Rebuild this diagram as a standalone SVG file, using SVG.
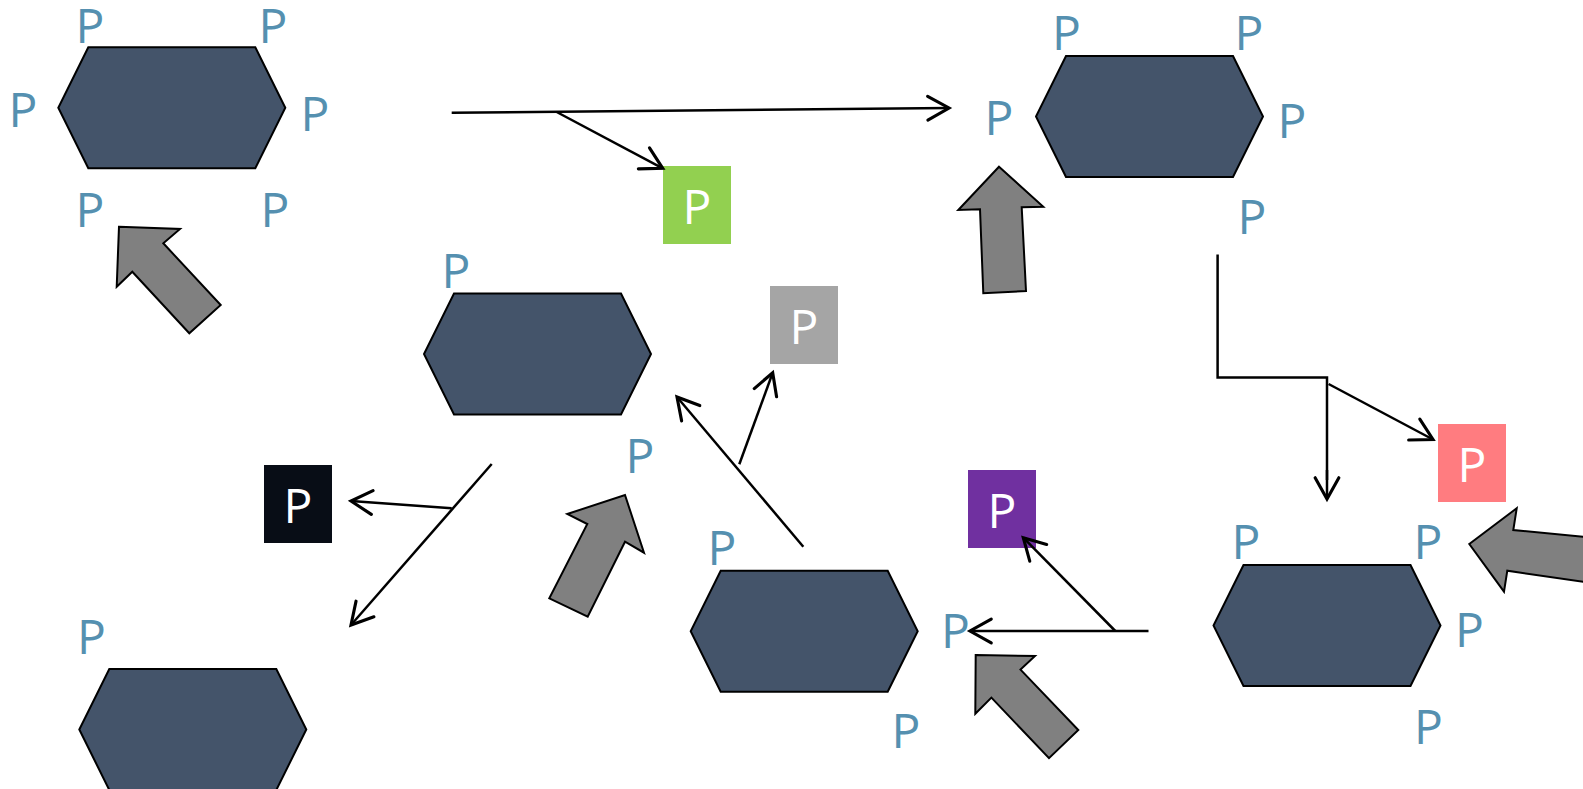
<svg xmlns="http://www.w3.org/2000/svg" xmlns:xlink="http://www.w3.org/1999/xlink" width="1583" height="789" viewBox="0 0 1583 789">
  <style>
    .hex { fill: #44546a; stroke: #000; stroke-width: 2; stroke-linejoin: miter; }
    .port { font-family: "Open Sans", "Noto Sans", sans-serif; font-size: 48px; fill: #5590b0; }
    .tag { font-family: "Open Sans", "Noto Sans", sans-serif; font-size: 48px; fill: #fff; text-anchor: middle; }
    .block { fill: #808080; stroke: #000; stroke-width: 2; stroke-linejoin: miter; }
    .wire { fill: none; stroke: #000; stroke-width: 2.5; }
    .wire.arrow { marker-end: url(#open); }
  </style>
  <defs>
    <polygon id="hexShape" class="hex" points="30,0 197,0 227,60.5 197,121 30,121 0,60.5"/>
    <marker id="open" markerUnits="userSpaceOnUse" markerWidth="30" markerHeight="30" viewBox="-20 -12 24 24" refX="0" refY="0" orient="auto">
      <path d="M -17,-9.5 L 0,0 L -17,9.5" fill="none" stroke="#000" stroke-width="2.5" stroke-linecap="round"/>
    </marker>
  </defs>

  <rect width="1583" height="789" fill="#fff"/>

  <!-- hexagon nodes with their port labels -->
  <g id="hex1">
    <use xlink:href="#hexShape" x="58.3" y="47.3"/>
    <text class="port" x="75.5" y="43">P</text>
    <text class="port" x="258.5" y="43">P</text>
    <text class="port" x="8.5" y="127">P</text>
    <text class="port" x="300.5" y="131">P</text>
    <text class="port" x="75.5" y="227">P</text>
    <text class="port" x="260.5" y="227">P</text>
  </g>
  <g id="hex2">
    <use xlink:href="#hexShape" x="1036" y="56"/>
    <text class="port" x="1052" y="50">P</text>
    <text class="port" x="1234.5" y="50">P</text>
    <text class="port" x="984.5" y="135">P</text>
    <text class="port" x="1277.5" y="138">P</text>
    <text class="port" x="1237.5" y="234">P</text>
  </g>
  <g id="hex3">
    <use xlink:href="#hexShape" x="424" y="293.5"/>
    <text class="port" x="441.5" y="288">P</text>
    <text class="port" x="625.5" y="473">P</text>
  </g>
  <g id="hex4">
    <use xlink:href="#hexShape" x="1213.5" y="565"/>
    <text class="port" x="1231.5" y="559">P</text>
    <text class="port" x="1413.5" y="559">P</text>
    <text class="port" x="1455" y="647">P</text>
    <text class="port" x="1414" y="744">P</text>
  </g>
  <g id="hex5">
    <use xlink:href="#hexShape" x="690.7" y="570.7"/>
    <text class="port" x="707.5" y="565">P</text>
    <text class="port" x="941" y="648">P</text>
    <text class="port" x="891.5" y="748">P</text>
  </g>
  <g id="hex6">
    <use xlink:href="#hexShape" x="79.3" y="669"/>
    <text class="port" x="77" y="654">P</text>
  </g>

  <!-- coloured tag nodes -->
  <g id="tagGreen">
    <rect x="663" y="166" width="68" height="78" fill="#92d050"/>
    <text class="tag" x="697" y="224">P</text>
  </g>
  <g id="tagGrey">
    <rect x="770" y="286" width="68" height="78" fill="#a5a5a5"/>
    <text class="tag" x="804" y="344">P</text>
  </g>
  <g id="tagBlack">
    <rect x="264" y="465" width="68" height="78" fill="#080d16"/>
    <text class="tag" x="298" y="523">P</text>
  </g>
  <g id="tagPurple">
    <rect x="968" y="470" width="68" height="78" fill="#7030a0"/>
    <text class="tag" x="1002" y="528">P</text>
  </g>
  <g id="tagPink">
    <rect x="1438" y="424" width="68" height="78" fill="#ff7c80"/>
    <text class="tag" x="1472" y="482">P</text>
  </g>

  <!-- block arrows -->
  <g id="blockArrow1">
    <polygon class="block" points="119,226.7 180,229 163.3,243.3 220.7,305 189.3,333.3 132.3,271.7 116.7,286.7"/>
  </g>
  <g id="blockArrow2">
    <polygon class="block" points="999,166.7 1043.3,206.7 1021.7,207.3 1026,291 983.3,293.3 980,209.3 958.3,210"/>
  </g>
  <g id="blockArrow3">
    <polygon class="block" points="625,495 644,552.7 625,541.7 587.7,616.7 549.3,598.3 587.3,524 567.3,514"/>
  </g>
  <g id="blockArrow4">
    <polygon class="block" points="975.7,655 1035,656 1020.5,669.6 1078.3,730 1049,758.2 991.4,697.6 975.3,713.8"/>
  </g>
  <g id="blockArrow5">
    <polygon class="block" points="1469.3,544 1516.7,508.3 1513.3,530 1625,541 1625,588 1507.3,570.7 1504,591.7"/>
  </g>

  <!-- connectors, drawn on top of the nodes -->
  <g id="connectors">
    <path class="wire arrow" d="M 451.7,112.7 L 949,108"/>
    <path class="wire arrow" d="M 556.7,112 L 662.7,168.3"/>
    <path class="wire" d="M 1217.6,254.5 L 1217.6,377.5 L 1327,377.5 L 1327,480"/>
    <path class="wire arrow" d="M 1327,470 L 1327,499"/>
    <path class="wire arrow" d="M 1328.6,384 L 1433,439.5"/>
    <path class="wire arrow" d="M 1148.5,631 L 970,631"/>
    <path class="wire arrow" d="M 1115.3,631 L 1023.3,537.7"/>
    <path class="wire arrow" d="M 803.3,546.7 L 677,397"/>
    <path class="wire arrow" d="M 739.3,464.3 L 772.7,372.7"/>
    <path class="wire arrow" d="M 491.7,464 L 351,625"/>
    <path class="wire arrow" d="M 451.7,508.3 L 351,501"/>
  </g>
</svg>
